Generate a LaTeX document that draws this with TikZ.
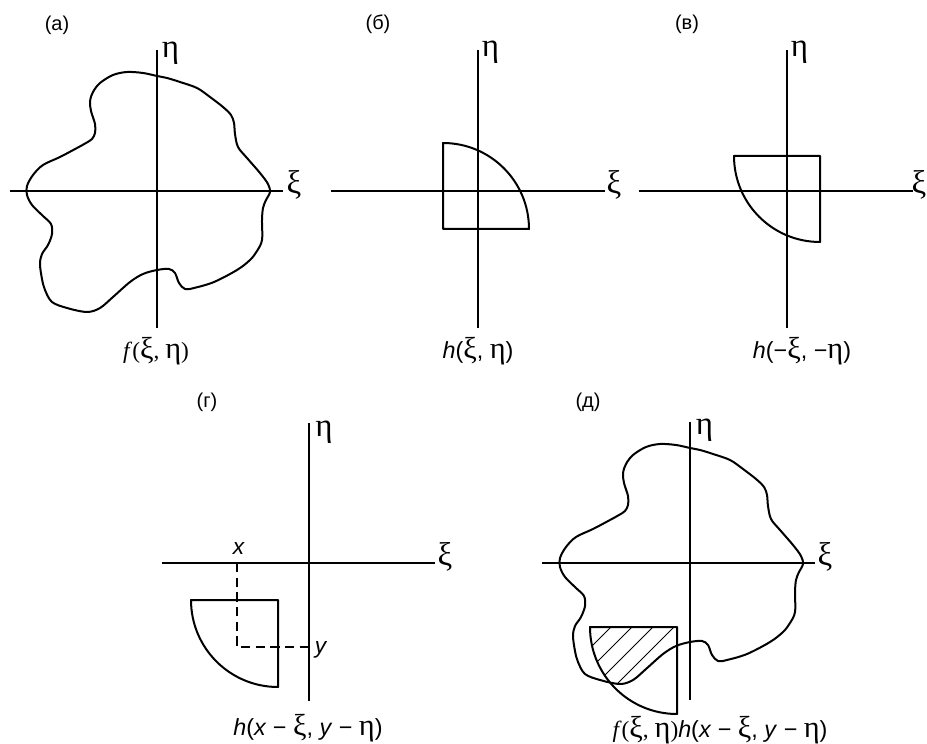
\documentclass[tikz,border=0pt]{standalone}
\usepackage{fontspec}
\setmainfont{Liberation Sans}
\newfontfamily\grfont{Liberation Serif}
\newfontfamily\grkfont[Scale=1.3]{Liberation Serif}
\newcommand\gxi{{\grkfont ξ}}
\newcommand\geta{{\grkfont η}}
\newcommand\blobshape{plot[smooth cycle, tension=0.55] coordinates {(0,115) (-14,118) (-30,119) (-44,116) (-57,108) (-64,99) (-67,90) (-66,80) (-62,67) (-62,58) (-65,52) (-71,48) (-80,43) (-97,34) (-114,26) (-124,16) (-130,5) (-130,-4) (-125,-14) (-114,-25) (-106,-33) (-105,-43) (-109,-54) (-115,-63) (-117,-73) (-115,-88) (-112,-99) (-105,-111) (-90,-117) (-70,-121) (-57,-117) (-44,-106) (-27,-91) (-14,-83) (0,-79) (12,-78) (18,-82) (22,-92) (28,-98) (37,-97) (57,-91) (80,-79) (93,-69) (100,-60) (105,-49) (105,-29) (106,-17) (109,-9) (113,-1) (111,7) (103,18) (90,33) (81,44) (78,57) (77,68) (74,76) (66,84) (53,94) (40,103) (23,109) (10,113)}}
\tikzset{
  axis/.style={line width=0.9pt},
  contour/.style={line width=1.5pt, line join=round},
  hatchline/.style={line width=0.75pt},
  guide/.style={line width=0.9pt, dash pattern=on 7pt off 4pt},
  axlab/.style={inner sep=0pt, font=\fontsize{19}{21}\selectfont},
  panlab/.style={inner sep=0pt, font=\fontsize{15}{17}\selectfont},
  funlab/.style={inner sep=0pt, font=\fontsize{17.5}{20}\selectfont},
  ptlab/.style={inner sep=0pt, font=\fontsize{17}{19}\selectfont\itshape},
}
\begin{document}
\begin{tikzpicture}[x=0.75pt, y=0.75pt]
\useasboundingbox (0,0) rectangle (927,743);

% ---------- (a)
\begin{scope}[shift={(157,552)}]
  \coordinate (aL) at (-147,0); \coordinate (aR) at (126,0);
  \coordinate (aT) at (0,141);  \coordinate (aB) at (0,-137);
  \draw[axis] (aL) -- (aR);
  \draw[axis] (aT) -- (aB);
  \draw[contour] \blobshape;
\end{scope}
\node[panlab] (pa) at (57,718) {(a)};
\node[axlab] (ea) at (170.5,690) {\geta};
\node[axlab] (xa) at (294,558) {\gxi};
\node[funlab] (fa) at (156,392) {{\grfont\textit{f}(}\gxi{\grfont, }\geta{\grfont)}};

% ---------- (b)
\begin{scope}[shift={(478,552)}]
  \coordinate (bL) at (-147,0); \coordinate (bR) at (127,0);
  \coordinate (bT) at (0,141);  \coordinate (bB) at (0,-137);
  \draw[axis] (bL) -- (bR);
  \draw[axis] (bT) -- (bB);
  \draw[contour] (-35,-38) -- (-35,48) arc[start angle=90, end angle=0, radius=86] -- cycle;
\end{scope}
\node[panlab] (pb) at (378,719) {(б)};
\node[axlab] (eb) at (490.5,690.5) {\geta};
\node[axlab] (xb) at (614,558) {\gxi};
\node[funlab] (fb) at (478,392) {\textit{h}(\gxi, \geta)};

% ---------- (v)
\begin{scope}[shift={(787,552)}]
  \coordinate (vL) at (-148,0); \coordinate (vR) at (126,0);
  \coordinate (vT) at (0,141);  \coordinate (vB) at (0,-137);
  \draw[axis] (vL) -- (vR);
  \draw[axis] (vT) -- (vB);
  \draw[contour] (33,35) -- (-53,35) arc[start angle=180, end angle=270, radius=86] -- cycle;
\end{scope}
\node[panlab] (pv) at (687,719) {(в)};
\node[axlab] (ev) at (799.5,691) {\geta};
\node[axlab] (xv) at (919,558) {\gxi};
\node[funlab] (fv) at (802,392) {\textit{h}(−\gxi, −\geta)};

% ---------- (g)
\begin{scope}[shift={(309,180)}]
  \coordinate (gL) at (-147,0); \coordinate (gR) at (126,0);
  \coordinate (gT) at (0,140);  \coordinate (gB) at (0,-138);
  \draw[axis] (gL) -- (gR);
  \draw[axis] (gT) -- (gB);
  \draw[contour] (-31,-37) -- (-118,-37) arc[start angle=180, end angle=270, radius=87] -- cycle;
  \coordinate (gx) at (-72,0); \coordinate (gxy) at (-72,-84); \coordinate (gy) at (0,-84);
  \draw[guide] (gx) -- (gxy) -- (gy);
\end{scope}
\node[panlab] (pg) at (207,341) {(г)};
\node[axlab] (eg) at (324,311) {\geta};
\node[axlab] (xg) at (445,186) {\gxi};
\node[ptlab] (lx) at (238.5,194) {x};
\node[ptlab] (ly) at (320.5,93.5) {y};
\node[funlab] (fg) at (308,15) {\textit{h}(\textit{x} − \gxi, \textit{y} − \geta)};

% ---------- (d)
\begin{scope}[shift={(690,180)}]
  \coordinate (dL) at (-148,0); \coordinate (dR) at (125,0);
  \coordinate (dT) at (0,141);  \coordinate (dB) at (0,-137);
  \draw[axis] (dL) -- (dR);
  \draw[axis] (dT) -- (dB);
  \begin{scope}
    \clip (-13,-64) -- (-100,-64) arc[start angle=180, end angle=270, radius=87] -- cycle;
    \clip \blobshape;
    \foreach \c in {-15,6,27,48}
      \draw[hatchline] (-160,{-160-\c}) -- (40,{40-\c});
  \end{scope}
  \draw[contour] \blobshape;
  \draw[contour] (-13,-64) -- (-100,-64) arc[start angle=180, end angle=270, radius=87] -- cycle;
\end{scope}
\node[panlab] (pd) at (588,341) {(д)};
\node[axlab] (ed) at (704.5,313) {\geta};
\node[axlab] (xd) at (825,186) {\gxi};
\node[funlab] (fd) at (720,13) {{\grfont\textit{f}(}\gxi{\grfont, }\geta{\grfont)}\textit{h}(\textit{x} − \gxi, \textit{y} − \geta)};
\end{tikzpicture}
\end{document}
